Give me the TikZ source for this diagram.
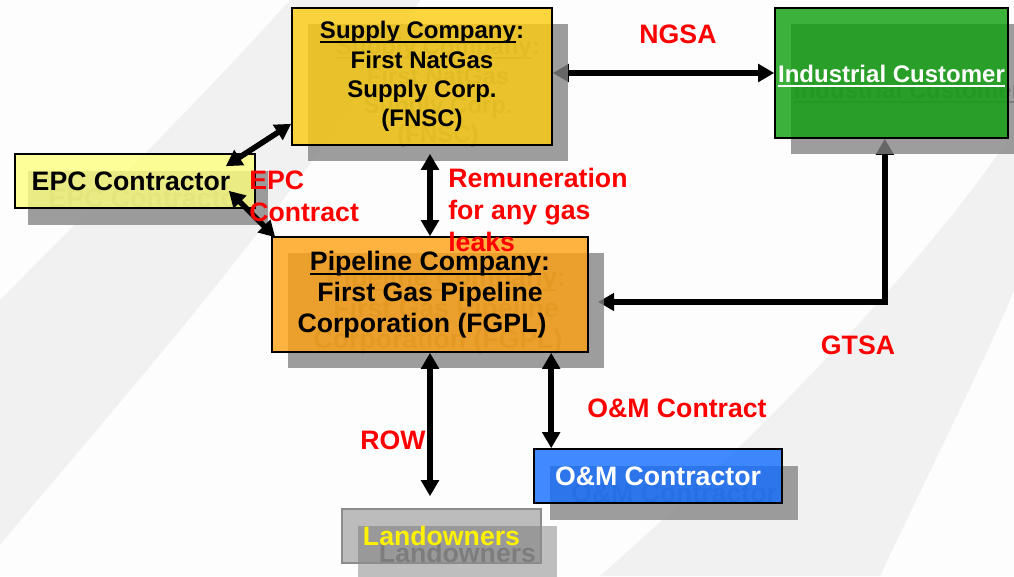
\documentclass[tikz,border=0pt]{standalone}
\usepackage{fontspec}
\setmainfont{Liberation Sans}
\usetikzlibrary{arrows.meta, calc}

\newcommand{\uln}[1]{\setbox0\hbox{#1}\rlap{\rule[-3.2pt]{\wd0}{1.4pt}}\box0}

\definecolor{bgwhite}{RGB}{253,253,253}
\definecolor{bandgray}{RGB}{241,241,241}
\definecolor{shadowgray}{RGB}{131,131,131}
\definecolor{ghostgray}{RGB}{125,125,125}
\definecolor{supplyfill}{RGB}{252,204,16}
\definecolor{epcfill}{RGB}{255,255,127}
\definecolor{pipefill}{RGB}{255,160,16}
\definecolor{custfill}{RGB}{12,160,12}
\definecolor{omfill}{RGB}{18,108,255}
\definecolor{landfill}{RGB}{110,110,110}
\definecolor{landedge}{RGB}{140,140,140}
\definecolor{landshadow}{RGB}{190,190,190}
\definecolor{landghost}{RGB}{138,138,138}

\pgfdeclarelayer{bg}
\pgfdeclarelayer{under}
\pgfsetlayers{bg,under,main}

\tikzset{
  boxfont/.style={font=\bfseries\fontsize{18}{22}\selectfont},
  bigfont/.style={font=\bfseries\fontsize{20}{23}\selectfont},
  box/.style={boxfont, draw=black, line width=1.2pt, fill opacity=0.8, text opacity=1, align=center, inner sep=0pt},
  shade/.style={boxfont, fill=shadowgray, fill opacity=0.78, text=ghostgray, text opacity=1, align=center, inner sep=0pt},
  lbl/.style={font=\bfseries\fontsize{20}{24}\selectfont, text=red, align=left, inner sep=0pt},
  dbl/.style={{Triangle[length=12pt,width=13pt]}-{Triangle[length=12pt,width=13pt]}, line width=4.2pt},
}

\begin{document}
\begin{tikzpicture}[x=0.75pt, y=-0.75pt]
\useasboundingbox (0,0) rectangle (1014,576);

% background swooshes
\begin{pgfonlayer}{bg}
\fill[bgwhite] (0,0) rectangle (1014,576);
\fill[bandgray] (290,0) .. controls (200,100) and (80,220) .. (0,300) -- (0,545) .. controls (120,400) and (300,200) .. (420,0) -- cycle;
\fill[bandgray] (1014,130) .. controls (950,230) and (800,400) .. (600,576) -- (880,576) .. controls (930,470) and (990,350) .. (1014,290) -- cycle;
\end{pgfonlayer}

% shadows
\node[shade, minimum width=195pt, minimum height=102.75pt] (supplysh) at (438,92.5) {\uln{Supply Company}:\\First NatGas\\Supply Corp.\\(FNSC)};
\node[shade, bigfont, minimum width=180pt, minimum height=40.5pt] (epcsh) at (148,198) {EPC Contractor};
\node[shade, bigfont, minimum width=237pt, minimum height=86.25pt] (pipelinesh) at (446,310.5) {\uln{Pipeline Company}:\\First Gas Pipeline\\Corporation (FGPL)\hspace*{12pt}};
\node[shade, minimum width=174.75pt, minimum height=97.5pt] (industrialsh) at (907.5,89) {\rule{0pt}{17.5pt}\uln{Industrial Customer}};
\node[shade, bigfont, minimum width=186pt, minimum height=40.5pt] (omsh) at (674,493) {O\&M Contractor};
\node[shade, bigfont, fill=landshadow, fill opacity=1, text=landghost, minimum width=149.25pt, minimum height=40.5pt] (landsh) at (457.5,553) {Landowners};

% boxes
\node[box, fill=supplyfill, minimum width=195pt, minimum height=102.75pt] (supply) at (422,76.5) {\uln{Supply Company}:\\First NatGas\\Supply Corp.\\(FNSC)};
\node[box, bigfont, fill=epcfill, minimum width=180pt, minimum height=40.5pt] (epc) at (135,181) {EPC Contractor\hspace*{6pt}};
\node[box, bigfont, fill=pipefill, minimum width=237pt, minimum height=86.25pt] (pipeline) at (430,294.5) {\uln{Pipeline Company}:\\First Gas Pipeline\\Corporation (FGPL)\hspace*{12pt}};
\node[box, fill=custfill, text=white, minimum width=174.75pt, minimum height=97.5pt] (industrial) at (891.5,73) {\rule{0pt}{17.5pt}\uln{Industrial Customer}};
\node[box, bigfont, fill=omfill, text=white, minimum width=186pt, minimum height=40.5pt] (om) at (658,476) {O\&M Contractor};
\node[box, bigfont, fill=landfill, fill opacity=0.45, draw=landedge, text=yellow, minimum width=149.25pt, minimum height=40.5pt] (land) at (441.5,536) {Landowners};

% connectors
\begin{pgfonlayer}{under}
\draw[dbl] (supply.east |- industrial.west) -- (industrial.west);
\draw[dbl] ([xshift=-5pt]industrial.south) |- ([shift={(7pt,-5.6pt)}]pipeline.east);
\end{pgfonlayer}
\draw[dbl] ($(supply.south west)+(0,-22)$) -- ($(epc.north east)+(-30,13)$);
\draw[dbl] ($(epc.south east)+(-27,-18)$) -- ($(pipeline.north west)+(4,1)$);
\draw[dbl, shorten <=6pt] (pipeline.north |- supply.south) -- (pipeline.north);
\draw[dbl, shorten >=9pt] (pipeline.south) -- (land.north -| pipeline.south);
\coordinate (omtop) at ($(om.north west)+(18,0)$);
\draw[dbl] (omtop |- pipeline.south) -- (omtop);

% labels
\node[lbl] (ngsa) at (678,34) {NGSA};
\node[lbl, anchor=west] (remun) at (448,210) {Remuneration\\for any gas\\leaks};
\node[lbl, anchor=west] (epcc) at (249,196.5) {EPC\\Contract};
\node[lbl] (gtsa) at (858,345) {GTSA};
\node[lbl] (row) at (393,440) {ROW};
\node[lbl] (omc) at (677,408) {O\&M Contract};
\end{tikzpicture}
\end{document}
